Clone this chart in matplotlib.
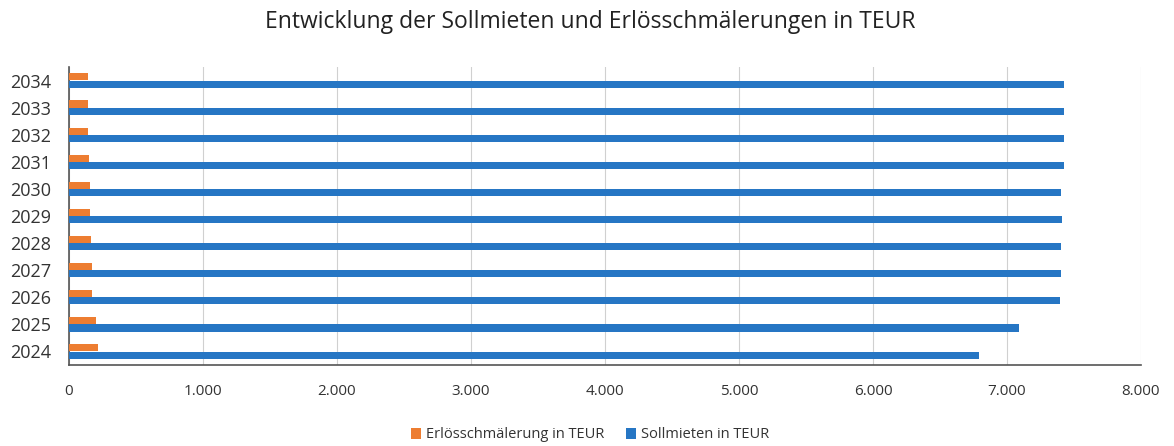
import matplotlib
matplotlib.use("Agg")
import matplotlib.pyplot as plt
import numpy as np
from matplotlib.ticker import FuncFormatter

years = ["2024", "2025", "2026", "2027", "2028", "2029", "2030", "2031", "2032", "2033", "2034"]
erloes = [216, 201, 174, 169, 162, 159, 154, 146, 145, 144, 144]
sollmieten = [6790, 7090, 7395, 7400, 7400, 7410, 7400, 7425, 7425, 7425, 7425]
xticks = [0, 1000, 2000, 3000, 4000, 5000, 6000, 7000, 8000]

plt.rcParams['font.family'] = ['Open Sans', 'DejaVu Sans']

fig = plt.figure(figsize=(11.74, 4.46), dpi=100)
ax = fig.add_axes([69/1174, 1-365/446, (1141-69)/1174, (365-67)/446])

y = np.arange(len(years))
h = 0.26
ax.barh(y + 0.135, erloes, height=h, color="#ED7D31", label="Erlösschmälerung in TEUR", zorder=3)
ax.barh(y - 0.135, sollmieten, height=h, color="#2676C4", label="Sollmieten in TEUR", zorder=3)

ax.set_xlim(0, 8000)
ax.set_ylim(-0.5, len(years) - 0.5)
ax.set_yticks(y)
ax.set_yticklabels(years, fontsize=13, color="#333333")
ax.set_xticks(xticks)
ax.xaxis.set_major_formatter(FuncFormatter(lambda v, p: f"{int(v):,}".replace(",", ".")))
ax.tick_params(axis='x', labelsize=11, colors="#333333", length=0, pad=14)
ax.tick_params(axis='y', length=0, pad=13)
ax.grid(axis='x', color="#D0D0D0", linewidth=0.8, zorder=0)
for s in ["top", "right"]:
    ax.spines[s].set_visible(False)
ax.spines["left"].set_color("#555555")
ax.spines["bottom"].set_color("#555555")
ax.spines["left"].set_linewidth(1.2)
ax.spines["bottom"].set_linewidth(1.2)

fig.text(590/1174, 1-22/446, "Entwicklung der Sollmieten und Erlösschmälerungen in TEUR",
         ha="center", va="center", fontsize=16.5, color="#222222")

handles, labels = ax.get_legend_handles_labels()
fig.legend(handles, labels, loc="center", bbox_to_anchor=(590/1174, 1-435/446), ncol=2,
           frameon=False, fontsize=10.5, handlelength=0.7, handleheight=0.7,
           handletextpad=0.3, columnspacing=1.5, labelcolor="#333333")

fig.savefig("out.png", dpi=100)
